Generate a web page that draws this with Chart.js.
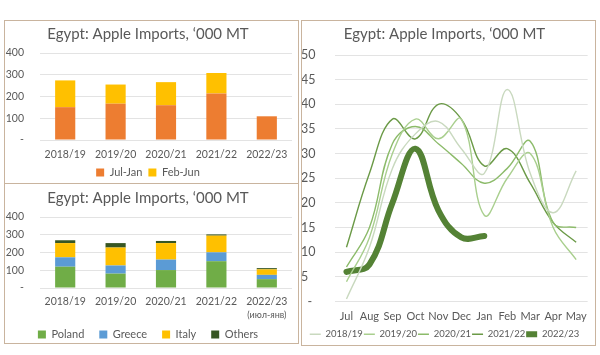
<!DOCTYPE html>
<html><head><meta charset="utf-8">
<script src="https://cdn.jsdelivr.net/npm/chart.js@4.4.0/dist/chart.umd.min.js"></script>
<style>
html,body{margin:0;padding:0;background:#fff;}
body{width:600px;height:355px;position:relative;overflow:hidden;}
.panel{position:absolute;border:1.5px solid #c9b49e;box-sizing:border-box;pointer-events:none;}
.wrap{position:absolute;}
</style></head><body>
<div class="wrap" style="left:4px;top:20px;width:294px;height:168px"><canvas id="c1" width="294" height="168"></canvas></div>
<div class="wrap" style="left:4px;top:183px;width:294px;height:167px"><canvas id="c2" width="294" height="167"></canvas></div>
<div class="wrap" style="left:301px;top:20px;width:294px;height:329px"><canvas id="c3" width="294" height="329"></canvas></div>
<div class="panel" style="left:4px;top:20px;width:295px;height:164px"></div>
<div class="panel" style="left:4px;top:183px;width:295px;height:161px"></div>
<div class="panel" style="left:301px;top:20px;width:295px;height:326px"></div>
<script>
// ---- data ----
const seasons = ['2018/19','2019/20','2020/21','2021/22','2022/23'];
const julJan = [151,167,160,214,109];
const febJun = [123,88,106,94,0];

const poland = [120,81,101,151,50];
const greece = [53,46,59,50,24];
const italy  = [80,101,93,94,31];
const others = [16,25,12,7,7];
const partialNote = '(июл-янв)';   // note under the last season of the country chart
const partialIndex = 4;

const months = ['Jul','Aug','Sep','Oct','Nov','Dec','Jan','Feb','Mar','Apr','May'];
const y1819 = [0.5,11,27,34,36.5,31,26,43,26,18,26.5];
const y1920 = [4,13,30,37,33,37,17.5,25,30,15,8.5];
const y2021 = [7,15,32,35.5,32,28,24,27,32.5,16,15];
const y2122 = [11,26,37,33,40,37,27.5,31,24,16,12];
const y2223 = [6,7.5,20,31,18.5,13,13.3];

const barTicks = [0,100,200,300,400];
const lineTicks = [0,5,10,15,20,25,30,35,40,45,50];

const titleText = 'Egypt: Apple Imports, ‘000 MT';
const FONT = 'Lato, "Open Sans", sans-serif';
const TXT = '#595959';
Chart.defaults.font.family = FONT;
Chart.defaults.color = TXT;
Chart.defaults.animation = false;

function barOpts(titlePad, legendPad, xH, xPad){
  return {
    responsive:false, maintainAspectRatio:false,
    layout:{padding:{left:0,right:6,top:0,bottom:0}},
    plugins:{
      title:{display:true,text:titleText,color:TXT,font:{size:15,weight:'normal'},padding:titlePad},
      legend:{position:'bottom',labels:{boxWidth:8,boxHeight:8,padding:legendPad,font:{size:11},color:TXT}},
      tooltip:{enabled:false}
    },
    scales:{
      x:{stacked:true,grid:{display:false,drawTicks:false},border:{display:false},
         ticks:{color:TXT,font:{size:10.5},padding:xPad,maxRotation:0,autoSkip:false},
         afterFit:s=>{s.height=xH;}},
      y:{stacked:true,min:0,max:400,
         afterBuildTicks:s=>{s.ticks=barTicks.map(v=>({value:v}));},
         grid:{color:'#e3e3e3',drawTicks:false},border:{display:false},
         ticks:{color:TXT,font:{size:10.5},padding:16,callback:v=>v===0?'-':v},
         afterFit:s=>{s.width=36;}}
    }
  };
}

new Chart(document.getElementById('c1'),{
  type:'bar',
  data:{labels:seasons,datasets:[
    {label:'Jul-Jan',data:julJan,backgroundColor:'#ed7d31',barPercentage:0.4,categoryPercentage:1},
    {label:'Feb-Jun',data:febJun,backgroundColor:'#ffc000',barPercentage:0.4,categoryPercentage:1}
  ]},
  options:barOpts({top:5,bottom:10},6,21,8)
});

const notePlugin = {
  id:'partialNote',
  afterDraw(chart){
    const sx = chart.scales.x, ctx = chart.ctx;
    ctx.save();
    ctx.font = '9px ' + FONT;
    ctx.fillStyle = TXT;
    ctx.textAlign = 'center';
    ctx.textBaseline = 'middle';
    ctx.fillText(partialNote, sx.getPixelForValue(partialIndex), sx.top + 27);
    ctx.restore();
  }
};

new Chart(document.getElementById('c2'),{
  type:'bar',
  data:{labels:seasons,datasets:[
    {label:'Poland',data:poland,backgroundColor:'#70ad47',barPercentage:0.4,categoryPercentage:1},
    {label:'Greece',data:greece,backgroundColor:'#5b9bd5',barPercentage:0.4,categoryPercentage:1},
    {label:'Italy',data:italy,backgroundColor:'#ffc000',barPercentage:0.4,categoryPercentage:1},
    {label:'Others',data:others,backgroundColor:'#375623',barPercentage:0.4,categoryPercentage:1}
  ]},
  options:barOpts({top:6,bottom:10},15,26,7),
  plugins:[notePlugin]
});

const lw=1.4;
new Chart(document.getElementById('c3'),{
  type:'line',
  data:{labels:months,datasets:[
    {label:'2018/19',data:y1819,borderColor:'#c9d9bf',borderWidth:lw},
    {label:'2019/20',data:y1920,borderColor:'#a9cf8e',borderWidth:lw},
    {label:'2020/21',data:y2021,borderColor:'#8cbb6a',borderWidth:lw},
    {label:'2021/22',data:y2122,borderColor:'#6b9a47',borderWidth:lw},
    {label:'2022/23',data:y2223,borderColor:'#548235',borderWidth:6,borderCapStyle:'round'}
  ].map(d=>Object.assign({pointRadius:0,tension:0.4,fill:false},d))},
  options:{
    responsive:false, maintainAspectRatio:false,
    layout:{padding:{left:0,right:7,top:0,bottom:0}},
    plugins:{
      title:{display:true,text:titleText,color:TXT,font:{size:15,weight:'normal'},padding:{top:5,bottom:12}},
      legend:{position:'bottom',labels:{usePointStyle:true,pointStyle:'line',pointStyleWidth:11,boxHeight:9.5,padding:1,font:{size:9.5},color:TXT}},
      tooltip:{enabled:false}
    },
    scales:{
      x:{offset:true,grid:{display:false,drawTicks:false},border:{display:false},
         ticks:{color:TXT,font:{size:11},padding:8,maxRotation:0,autoSkip:false},
         afterFit:s=>{s.height=27;}},
      y:{min:0,max:50,
         afterBuildTicks:s=>{s.ticks=lineTicks.map(v=>({value:v}));},
         grid:{color:'#e3e3e3',drawTicks:false},border:{display:false},
         ticks:{color:TXT,font:{size:12.5},padding:0,crossAlign:'far',callback:v=>v===0?'  -':v},
         afterFit:s=>{s.width=34;}}
    }
  }
});
</script>
</body></html>
